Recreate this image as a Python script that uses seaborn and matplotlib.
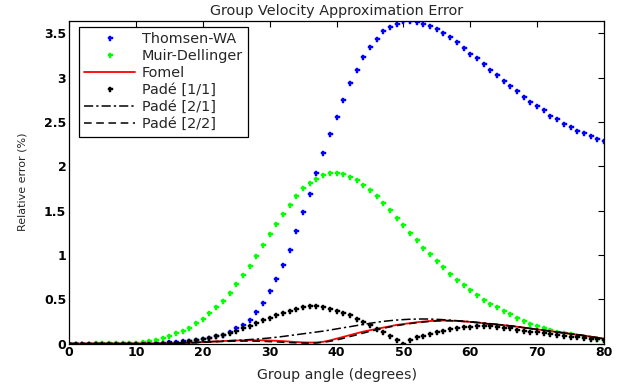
import numpy as np
import pandas as pd
import matplotlib
matplotlib.use("Agg")
import matplotlib.pyplot as plt
import seaborn as sns

# Group angle in degrees
angles = list(range(0, 81))

thomsen_wa = [0.0]*13 + [
    0.005, 0.01, 0.015, 0.02, 0.025, 0.03, 0.04, 0.05, 0.06, 0.08,   # 13-22
    0.10, 0.13, 0.17, 0.21, 0.27, 0.36, 0.46, 0.59, 0.73, 0.89,      # 23-32
    1.06, 1.27, 1.48, 1.69, 1.92, 2.15, 2.36, 2.56, 2.75, 2.94,      # 33-42
    3.09, 3.23, 3.35, 3.44, 3.52, 3.57, 3.61, 3.635, 3.64, 3.63,     # 43-52
    3.61, 3.58, 3.545, 3.50, 3.455, 3.40, 3.335, 3.27, 3.22, 3.155,  # 53-62
    3.09, 3.03, 2.96, 2.905, 2.845, 2.78, 2.73, 2.675, 2.63, 2.57,   # 63-72
    2.53, 2.48, 2.44, 2.40, 2.37, 2.34, 2.31, 2.28]                  # 73-80

muir_dellinger = [0.0, 0.0, 0.0, 0.0, 0.001, 0.001, 0.002, 0.003, 0.004, 0.006,  # 0-9
    0.01, 0.02, 0.03, 0.04, 0.06, 0.085, 0.115, 0.14, 0.18, 0.23,                # 10-19
    0.28, 0.34, 0.41, 0.48, 0.565, 0.67, 0.77, 0.88, 0.99, 1.11,                 # 20-29
    1.23, 1.35, 1.46, 1.56, 1.66, 1.75, 1.81, 1.86, 1.90, 1.92,                  # 30-39
    1.92, 1.91, 1.88, 1.84, 1.79, 1.73, 1.66, 1.58, 1.51, 1.42,                  # 40-49
    1.34, 1.25, 1.17, 1.08, 1.005, 0.935, 0.86, 0.78, 0.715, 0.655,              # 50-59
    0.60, 0.55, 0.49, 0.45, 0.41, 0.365, 0.33, 0.29, 0.255, 0.225,               # 60-69
    0.20, 0.175, 0.15, 0.135, 0.12, 0.105, 0.09, 0.075, 0.065, 0.053, 0.045]     # 70-80

fomel = [0.0]*15 + [
    0.002, 0.004, 0.006, 0.009, 0.012, 0.016, 0.02, 0.024, 0.028, 0.031,         # 15-24
    0.034, 0.036, 0.037, 0.037, 0.036, 0.034, 0.031, 0.027, 0.022, 0.017,        # 25-34
    0.013, 0.011, 0.012, 0.02, 0.035, 0.055, 0.075, 0.095, 0.115, 0.135,        # 35-44
    0.15, 0.165, 0.18, 0.195, 0.21, 0.22, 0.23, 0.24, 0.248, 0.254,             # 45-54
    0.258, 0.26, 0.258, 0.255, 0.25, 0.244, 0.237, 0.229, 0.22, 0.215,          # 55-64
    0.208, 0.199, 0.19, 0.18, 0.17, 0.16, 0.15, 0.14, 0.13, 0.12,               # 65-74
    0.11, 0.1, 0.09, 0.078, 0.066, 0.054]                                        # 75-80

pade_11 = [0.0]*15 + [
    0.005, 0.01, 0.015, 0.025, 0.035, 0.05, 0.06, 0.08, 0.10, 0.12,             # 15-24
    0.145, 0.17, 0.20, 0.23, 0.26, 0.29, 0.32, 0.345, 0.37, 0.39,              # 25-34
    0.41, 0.42, 0.42, 0.41, 0.39, 0.366, 0.347, 0.32, 0.28, 0.245,             # 35-44
    0.21, 0.16, 0.125, 0.083, 0.04, 0.0, 0.04, 0.07, 0.09, 0.11,               # 45-54
    0.13, 0.145, 0.16, 0.175, 0.19, 0.19, 0.195, 0.195, 0.195, 0.19,           # 55-64
    0.18, 0.17, 0.155, 0.145, 0.135, 0.125, 0.115, 0.105, 0.095, 0.085,        # 65-74
    0.077, 0.07, 0.062, 0.055, 0.05, 0.045]                                     # 75-80

pade_21 = [0.0]*15 + [
    0.002, 0.004, 0.006, 0.009, 0.012, 0.016, 0.02, 0.024, 0.028, 0.032,        # 15-24
    0.036, 0.04, 0.045, 0.05, 0.056, 0.063, 0.071, 0.08, 0.09, 0.10,            # 25-34
    0.11, 0.12, 0.13, 0.14, 0.152, 0.165, 0.178, 0.19, 0.203, 0.215,            # 35-44
    0.228, 0.24, 0.25, 0.258, 0.265, 0.27, 0.274, 0.276, 0.277, 0.276,          # 45-54
    0.273, 0.269, 0.264, 0.258, 0.252, 0.246, 0.239, 0.232, 0.224, 0.216,       # 55-64
    0.208, 0.199, 0.19, 0.18, 0.17, 0.16, 0.15, 0.14, 0.13, 0.12,               # 65-74
    0.11, 0.1, 0.09, 0.078, 0.066, 0.054]                                        # 75-80

pade_22 = [0.0]*15 + [
    0.002, 0.004, 0.006, 0.008, 0.011, 0.014, 0.017, 0.02, 0.023, 0.025,        # 15-24
    0.027, 0.028, 0.028, 0.027, 0.025, 0.022, 0.019, 0.015, 0.011, 0.008,       # 25-34
    0.006, 0.005, 0.007, 0.014, 0.025, 0.04, 0.058, 0.078, 0.098, 0.118,        # 35-44
    0.137, 0.155, 0.172, 0.188, 0.202, 0.214, 0.225, 0.235, 0.243, 0.25,        # 45-54
    0.255, 0.258, 0.257, 0.254, 0.249, 0.243, 0.236, 0.228, 0.22, 0.214,        # 55-64
    0.207, 0.198, 0.189, 0.179, 0.169, 0.159, 0.149, 0.139, 0.129, 0.119,       # 65-74
    0.109, 0.099, 0.089, 0.077, 0.065, 0.053]                                    # 75-80

x_ticks = [0, 10, 20, 30, 40, 50, 60, 70, 80]
y_ticks = [0, 0.5, 1, 1.5, 2, 2.5, 3, 3.5]
y_tick_labels = ["0", "0.5", "1", "1.5", "2", "2.5", "3", "3.5"]

sns.set_theme(style="white")
plt.rcParams["font.family"] = ["DejaVu Sans"]

fig = plt.figure(figsize=(6.22, 3.86), dpi=100)
ax = fig.add_axes([0.111, 0.110, 0.860, 0.836])

ang = np.array(angles)
mk = dict(marker="P", markersize=3.6, markeredgewidth=0.3, linestyle="none")

sns.lineplot(x=ang, y=thomsen_wa, ax=ax, color="#0000ff", markeredgecolor="#0000ff",
             label="Thomsen-WA", **mk)
sns.lineplot(x=ang, y=muir_dellinger, ax=ax, color="#00ff00", markeredgecolor="#00ff00",
             label="Muir-Dellinger", **mk)
sns.lineplot(x=ang, y=fomel, ax=ax, color="#ff0000", linewidth=1.3, label="Fomel")
sns.lineplot(x=ang, y=pade_11, ax=ax, color="black", markeredgecolor="black",
             label="Padé [1/1]", **mk)
sns.lineplot(x=ang, y=pade_21, ax=ax, color="black", linewidth=1.1,
             linestyle=(0, (6, 2, 1.5, 2)), label="Padé [2/1]")
sns.lineplot(x=ang, y=pade_22, ax=ax, color="black", linewidth=1.1,
             linestyle=(0, (5, 3)), label="Padé [2/2]")

ax.set_xlim(0, 80)
ax.set_ylim(0, 3.64)
ax.set_xticks(x_ticks)
ax.set_xticklabels([str(t) for t in x_ticks])
ax.set_yticks(y_ticks)
ax.set_yticklabels(y_tick_labels)
ax.tick_params(direction="in", length=4, width=0.8, top=True, right=True,
               labelsize=9, pad=2, colors="black")
for lbl in ax.get_xticklabels() + ax.get_yticklabels():
    lbl.set_fontweight("bold")
for sp in ax.spines.values():
    sp.set_color("black")
    sp.set_linewidth(0.9)

ax.set_xlabel("Group angle (degrees)", fontsize=10.2, labelpad=6)
ax.set_ylabel("Relative error (%)", fontsize=8, labelpad=12)
ax.set_title("Group Velocity Approximation Error", fontsize=10.4, pad=4)

leg = ax.legend(loc="upper left", bbox_to_anchor=(0.018, 0.982), fontsize=10.4,
                frameon=True, fancybox=False, edgecolor="black", framealpha=1,
                handlelength=3.5, handletextpad=0.45, labelspacing=0.2,
                borderpad=0.4, borderaxespad=0.0, markerscale=1.0)
leg.get_frame().set_linewidth(0.9)

fig.savefig("out.png", dpi=100)
